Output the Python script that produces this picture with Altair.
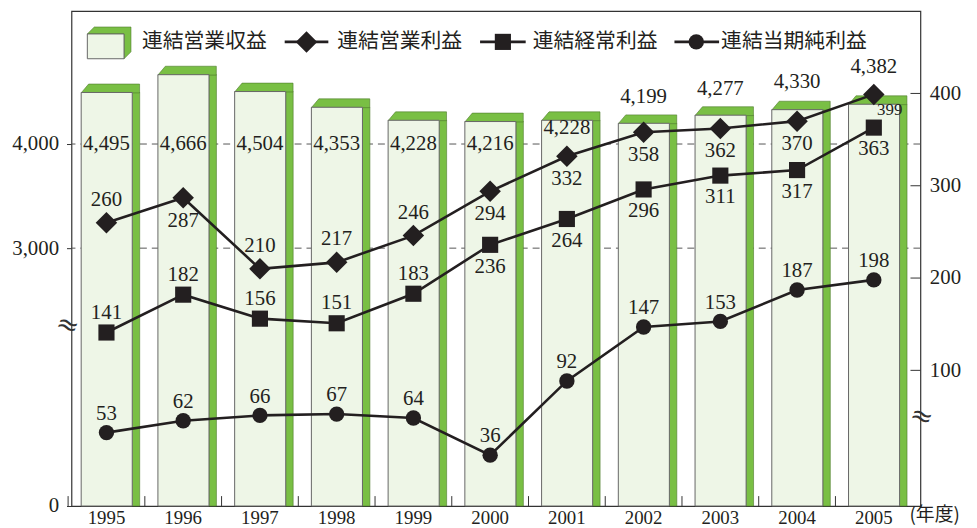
import altair as alt
import pandas as pd

# ---------------- data ----------------
years = ["1995", "1996", "1997", "1998", "1999", "2000", "2001", "2002", "2003", "2004", "2005"]
revenue = [4495, 4666, 4504, 4353, 4228, 4216, 4228, 4199, 4277, 4330, 4382]
op_income = [260, 287, 210, 217, 246, 294, 332, 358, 362, 370, 399]
ord_income = [141, 182, 156, 151, 183, 236, 264, 296, 311, 317, 363]
net_income = [53, 62, 66, 67, 64, 36, 92, 147, 153, 187, 198]
series_names = ["連結営業収益", "連結営業利益", "連結経常利益", "連結当期純利益"]
left_ticks = [0, 3000, 4000]
grid_values = [3000, 4000]
right_ticks = [100, 200, 300, 400]
x_unit = "(年度)"

# label placement (layout, not data)
rev_label_at = [4000, 4000, 4000, 4000, 4000, 4000, 4155, 4452, 4529, 4600, 4743]
op_label_pos = ["above", "below", "above", "above", "above", "below", "below", "below", "below", "below", "right"]
ord_label_pos = ["above"] * 5 + ["below"] * 6
net_label_pos = ["above"] * 11

# ---------------- style ----------------
W, H = 856, 499
INK = "#231f20"
GREEN = "#79bf44"
FACE = "#eef6e7"
NUMFONT = "Liberation Serif"
JPFONT = "Noto Sans CJK JP"
STEP = 851.1 / 11

xs = alt.Scale(domain=years, range=[-3.4, 847.7], paddingInner=0, paddingOuter=0)
left_scale = alt.Scale(domain=[0, 2257, 5276.2], range=[H, 317, 0], nice=False, zero=False)
right_scale = alt.Scale(domain=[0, 100, 400], range=[495.8, 362.2, 83], nice=False, zero=False)

x_axis = alt.Axis(ticks=False, domain=False, grid=False, labelAngle=0, labelFont=NUMFONT,
                  labelFontSize=19, labelColor=INK, labelPadding=3, title=None)
left_axis = alt.Axis(values=left_ticks, labelExpr="format(datum.value, ',')", grid=False, domain=False,
                     tickSize=5, tickColor="#333", labelPadding=8, labelFont=NUMFONT, labelFontSize=21,
                     labelColor=INK, title=None)
right_axis = alt.Axis(orient="right", values=right_ticks, labelExpr="format(datum.value, 'd')",
                      grid=False, domain=False, ticks=False, labelPadding=9, labelFont=NUMFONT,
                      labelFontSize=21, labelColor=INK, title=None)

X = alt.X("year:N", scale=xs, axis=x_axis)


def YL(field):
    return alt.Y(field, scale=left_scale, axis=left_axis)


def YR(field):
    return alt.Y(field, scale=right_scale, axis=right_axis)


df_bar = pd.DataFrame({"year": years, "rev": revenue, "label_at": rev_label_at})
df_grid = pd.DataFrame({"v": grid_values})
df_rt = pd.DataFrame({"t": right_ticks})

rows = []
for name, vals, pos in [(series_names[1], op_income, op_label_pos),
                        (series_names[2], ord_income, ord_label_pos),
                        (series_names[3], net_income, net_label_pos)]:
    for y, v, p in zip(years, vals, pos):
        rows.append({"year": y, "series": name, "value": v, "pos": p})
df_line = pd.DataFrame(rows)
one = pd.DataFrame({"k": [0]})

# ---------------- bar group (left scale) ----------------
grid = alt.Chart(df_grid).mark_rule(strokeDash=[7, 5], color="#555", strokeWidth=1).encode(y=YL("v:Q"))

side = alt.Chart(df_bar).mark_bar(color=GREEN, width=7.6, xOffset=29.7, stroke="#4d7a2c",
                                  strokeWidth=0.6).encode(x=X, y=YL("rev:Q"), y2=alt.datum(0))
top_path = "M-0.6375,0.01 L-0.45,-0.2125 L0.835,-0.2125 L0.835,0.01 Z"
top = alt.Chart(df_bar).mark_point(shape=top_path, size=6400, filled=True, fill=GREEN, opacity=1,
                                   stroke="#4d7a2c", strokeWidth=0.6).encode(x=X, y=YL("rev:Q"))
front = alt.Chart(df_bar).mark_bar(width=51.5, xOffset=0.25, fill=FACE, stroke="#666",
                                   strokeWidth=1).encode(x=X, y=YL("rev:Q"), y2=alt.datum(0))
rev_text = alt.Chart(df_bar).mark_text(font=NUMFONT, fontSize=21, color=INK, baseline="middle").encode(
    x=X, y=YL("label_at:Q"), text=alt.Text("rev:Q", format=","))
xticks = alt.Chart(df_bar).mark_rule(color="#333", strokeWidth=1, xOffset=-STEP / 2).encode(
    x=X, y=alt.value(H - 10), y2=alt.value(H))

bar_group = alt.layer(grid, side, top, front, rev_text, xticks)

# ---------------- line group (right scale) ----------------
lines = alt.Chart(df_line).mark_line(color=INK, strokeWidth=2.6).encode(
    x=X, y=YR("value:Q"), detail="series:N")


def pts(name, shape, size):
    return alt.Chart(df_line).transform_filter(alt.datum.series == name).mark_point(
        shape=shape, size=size, filled=True, color=INK, opacity=1).encode(x=X, y=YR("value:Q"))


def labels(name, pos, dy, dx=0, size=21):
    return alt.Chart(df_line).transform_filter(
        (alt.datum.series == name) & (alt.datum.pos == pos)).mark_text(
        font=NUMFONT, fontSize=size, color=INK, baseline="middle", dy=dy, dx=dx).encode(
        x=X, y=YR("value:Q"), text="value:Q")


rticks = alt.Chart(df_rt).mark_rule(color="#333", strokeWidth=1).encode(
    y=YR("t:Q"), x=alt.value(W - 10), x2=alt.value(W))

line_group = alt.layer(
    rticks, lines,
    pts(series_names[1], "diamond", 470),
    pts(series_names[2], "square", 265),
    pts(series_names[3], "circle", 240),
    labels(series_names[1], "above", -23),
    labels(series_names[1], "below", 23),
    labels(series_names[1], "right", 16, 16, 17),
    labels(series_names[2], "above", -20),
    labels(series_names[2], "below", 22),
    labels(series_names[3], "above", -19),
)

# ---------------- legend & annotations (pixel layout) ----------------
LY = 31
leg_path = "M-0.4625,0 L-0.2875,-0.175 L0.6375,-0.175 L0.6375,0.45 L0.4625,0.625 L0.4625,0 Z"
leg_parts = [
    alt.Chart(one).mark_point(shape=leg_path, size=6400, filled=True, fill=GREEN, opacity=1,
                              stroke="#4d7a2c", strokeWidth=0.6).encode(
        x=alt.value(34.5), y=alt.value(LY - 8)),
    alt.Chart(one).mark_rect(fill=FACE, stroke="#666", strokeWidth=1).encode(
        x=alt.value(16), x2=alt.value(53), y=alt.value(LY - 8), y2=alt.value(LY + 17)),
    alt.Chart(one).mark_text(font=JPFONT, fontSize=21, color=INK, align="left", baseline="middle").encode(
        x=alt.value(71), y=alt.value(LY), text=alt.value(series_names[0])),
]
leg_specs = [
    (215, 259, 237, 268, "diamond", 470, series_names[1]),
    (412, 458, 435, 465, "square", 265, series_names[2]),
    (608, 653, 630, 655, "circle", 240, series_names[3]),
]
for l0, l1, cx, tx, shape, size, name in leg_specs:
    leg_parts.append(alt.Chart(one).mark_rule(color=INK, strokeWidth=2.6).encode(
        x=alt.value(l0), x2=alt.value(l1), y=alt.value(LY)))
    leg_parts.append(alt.Chart(one).mark_point(shape=shape, size=size, filled=True, color=INK,
                                               opacity=1).encode(x=alt.value(cx), y=alt.value(LY)))
    leg_parts.append(alt.Chart(one).mark_text(font=JPFONT, fontSize=21, color=INK, align="left",
                                              baseline="middle").encode(
        x=alt.value(tx), y=alt.value(LY), text=alt.value(name)))

annot = [
    alt.Chart(one).mark_text(font="DejaVu Sans", fontSize=27, color="#333", angle=20,
                             baseline="middle").encode(x=alt.value(-4), y=alt.value(317),
                                                       text=alt.value("≈")),
    alt.Chart(one).mark_text(font="DejaVu Sans", fontSize=27, color="#333", angle=20,
                             baseline="middle").encode(x=alt.value(857), y=alt.value(409),
                                                       text=alt.value("≈")),
    alt.Chart(one).mark_text(font=JPFONT, fontSize=19, color=INK, align="left",
                             baseline="middle").encode(x=alt.value(845), y=alt.value(508),
                                                       text=alt.value(x_unit)),
]
annot_group = alt.layer(*leg_parts, *annot)

chart = alt.layer(bar_group, line_group, annot_group).resolve_scale(y="independent").properties(
    width=W, height=H,
    padding={"left": 64, "top": 1, "right": 49, "bottom": 20},
    autosize=alt.AutoSizeParams(type="none"),
    background="white",
).configure_view(stroke="#333", strokeWidth=1.2)

chart.save("out.html", embed_options={"renderer": "svg", "actions": False})
